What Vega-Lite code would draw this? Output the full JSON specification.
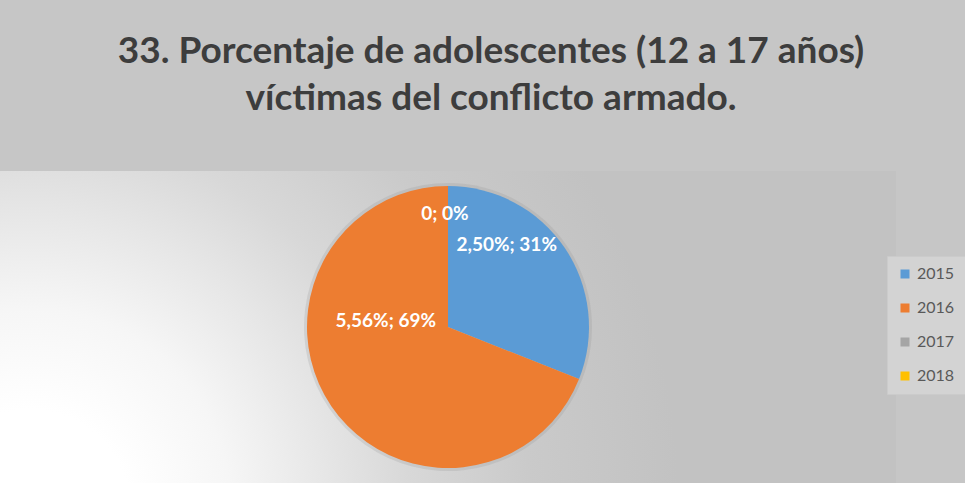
{
  "$schema": "https://vega.github.io/schema/vega-lite/v6.json",
  "width": 896,
  "height": 312,
  "autosize": {"type": "none"},
  "padding": {"top": 171, "left": 0, "right": 69, "bottom": 0},
  "background": "#c6c6c6",
  "title": {
    "text": ["33. Porcentaje de adolescentes (12 a 17 años)", "víctimas del conflicto armado."],
    "font": "Lato",
    "fontSize": 37,
    "fontWeight": "bold",
    "color": "#3d3d3d",
    "anchor": "middle",
    "lineHeight": 47,
    "offset": 53,
    "dx": 43
  },
  "view": {
    "stroke": null,
    "fill": {
      "gradient": "radial",
      "x1": 0.033, "y1": 0.704, "r1": 0,
      "x2": 0.033, "y2": 0.704, "r2": 0.725,
      "stops": [
        {"offset": 0, "color": "#ffffff"},
        {"offset": 0.154, "color": "#ffffff"},
        {"offset": 0.31, "color": "#f6f6f6"},
        {"offset": 0.46, "color": "#e6e6e6"},
        {"offset": 0.585, "color": "#d8d8d8"},
        {"offset": 0.77, "color": "#cacaca"},
        {"offset": 1, "color": "#c2c2c2"}
      ]
    }
  },
  "data": {
    "values": [
      {"year": "2015", "value": 2.50, "label": "2,50%; 31%"},
      {"year": "2016", "value": 5.56, "label": "5,56%; 69%"},
      {"year": "2017", "value": 0, "label": "0; 0%"},
      {"year": "2018", "value": 0, "label": "0; 0%"}
    ]
  },
  "encoding": {
    "theta": {"field": "value", "type": "quantitative", "stack": true},
    "order": {"field": "year", "type": "ordinal", "sort": "ascending"},
    "detail": {"field": "year", "type": "nominal"}
  },
  "layer": [
    {
      "mark": {"type": "arc", "outerRadius": 144, "color": "#8a8a8a", "opacity": 0.2}
    },
    {
      "mark": {"type": "arc", "outerRadius": 141},
      "encoding": {
        "color": {
          "field": "year",
          "type": "nominal",
          "scale": {"domain": ["2015", "2016", "2017", "2018"], "range": ["#5b9bd5", "#ed7d31", "#a5a5a5", "#ffc000"]},
          "legend": {
            "title": null,
            "orient": "none",
            "legendX": 887,
            "legendY": 85,
            "padding": 10,
            "fillColor": "#d3d3d3",
            "strokeColor": "#cbcbcb",
            "symbolType": "square",
            "symbolSize": 81,
            "symbolStrokeWidth": 0,
            "labelFont": "Lato",
            "labelFontSize": 16,
            "labelColor": "#595959",
            "rowPadding": 18
          }
        }
      }
    },
    {
      "mark": {"type": "text", "radius": 113, "dx": -3, "dy": 0, "font": "Lato", "fontSize": 19, "fontWeight": "bold", "fill": "#ffffff"},
      "encoding": {"text": {"condition": {"test": "datum.year === '2017'", "field": "label"}, "value": ""}}
    },
    {
      "mark": {"type": "text", "radius": 100, "dx": -24, "dy": -26, "font": "Lato", "fontSize": 19, "fontWeight": "bold", "fill": "#ffffff"},
      "encoding": {"text": {"condition": {"test": "datum.year === '2015'", "field": "label"}, "value": ""}}
    },
    {
      "mark": {"type": "text", "radius": 80, "dx": 4, "dy": -51, "font": "Lato", "fontSize": 19, "fontWeight": "bold", "fill": "#ffffff"},
      "encoding": {"text": {"condition": {"test": "datum.year === '2016'", "field": "label"}, "value": ""}}
    }
  ]
}
